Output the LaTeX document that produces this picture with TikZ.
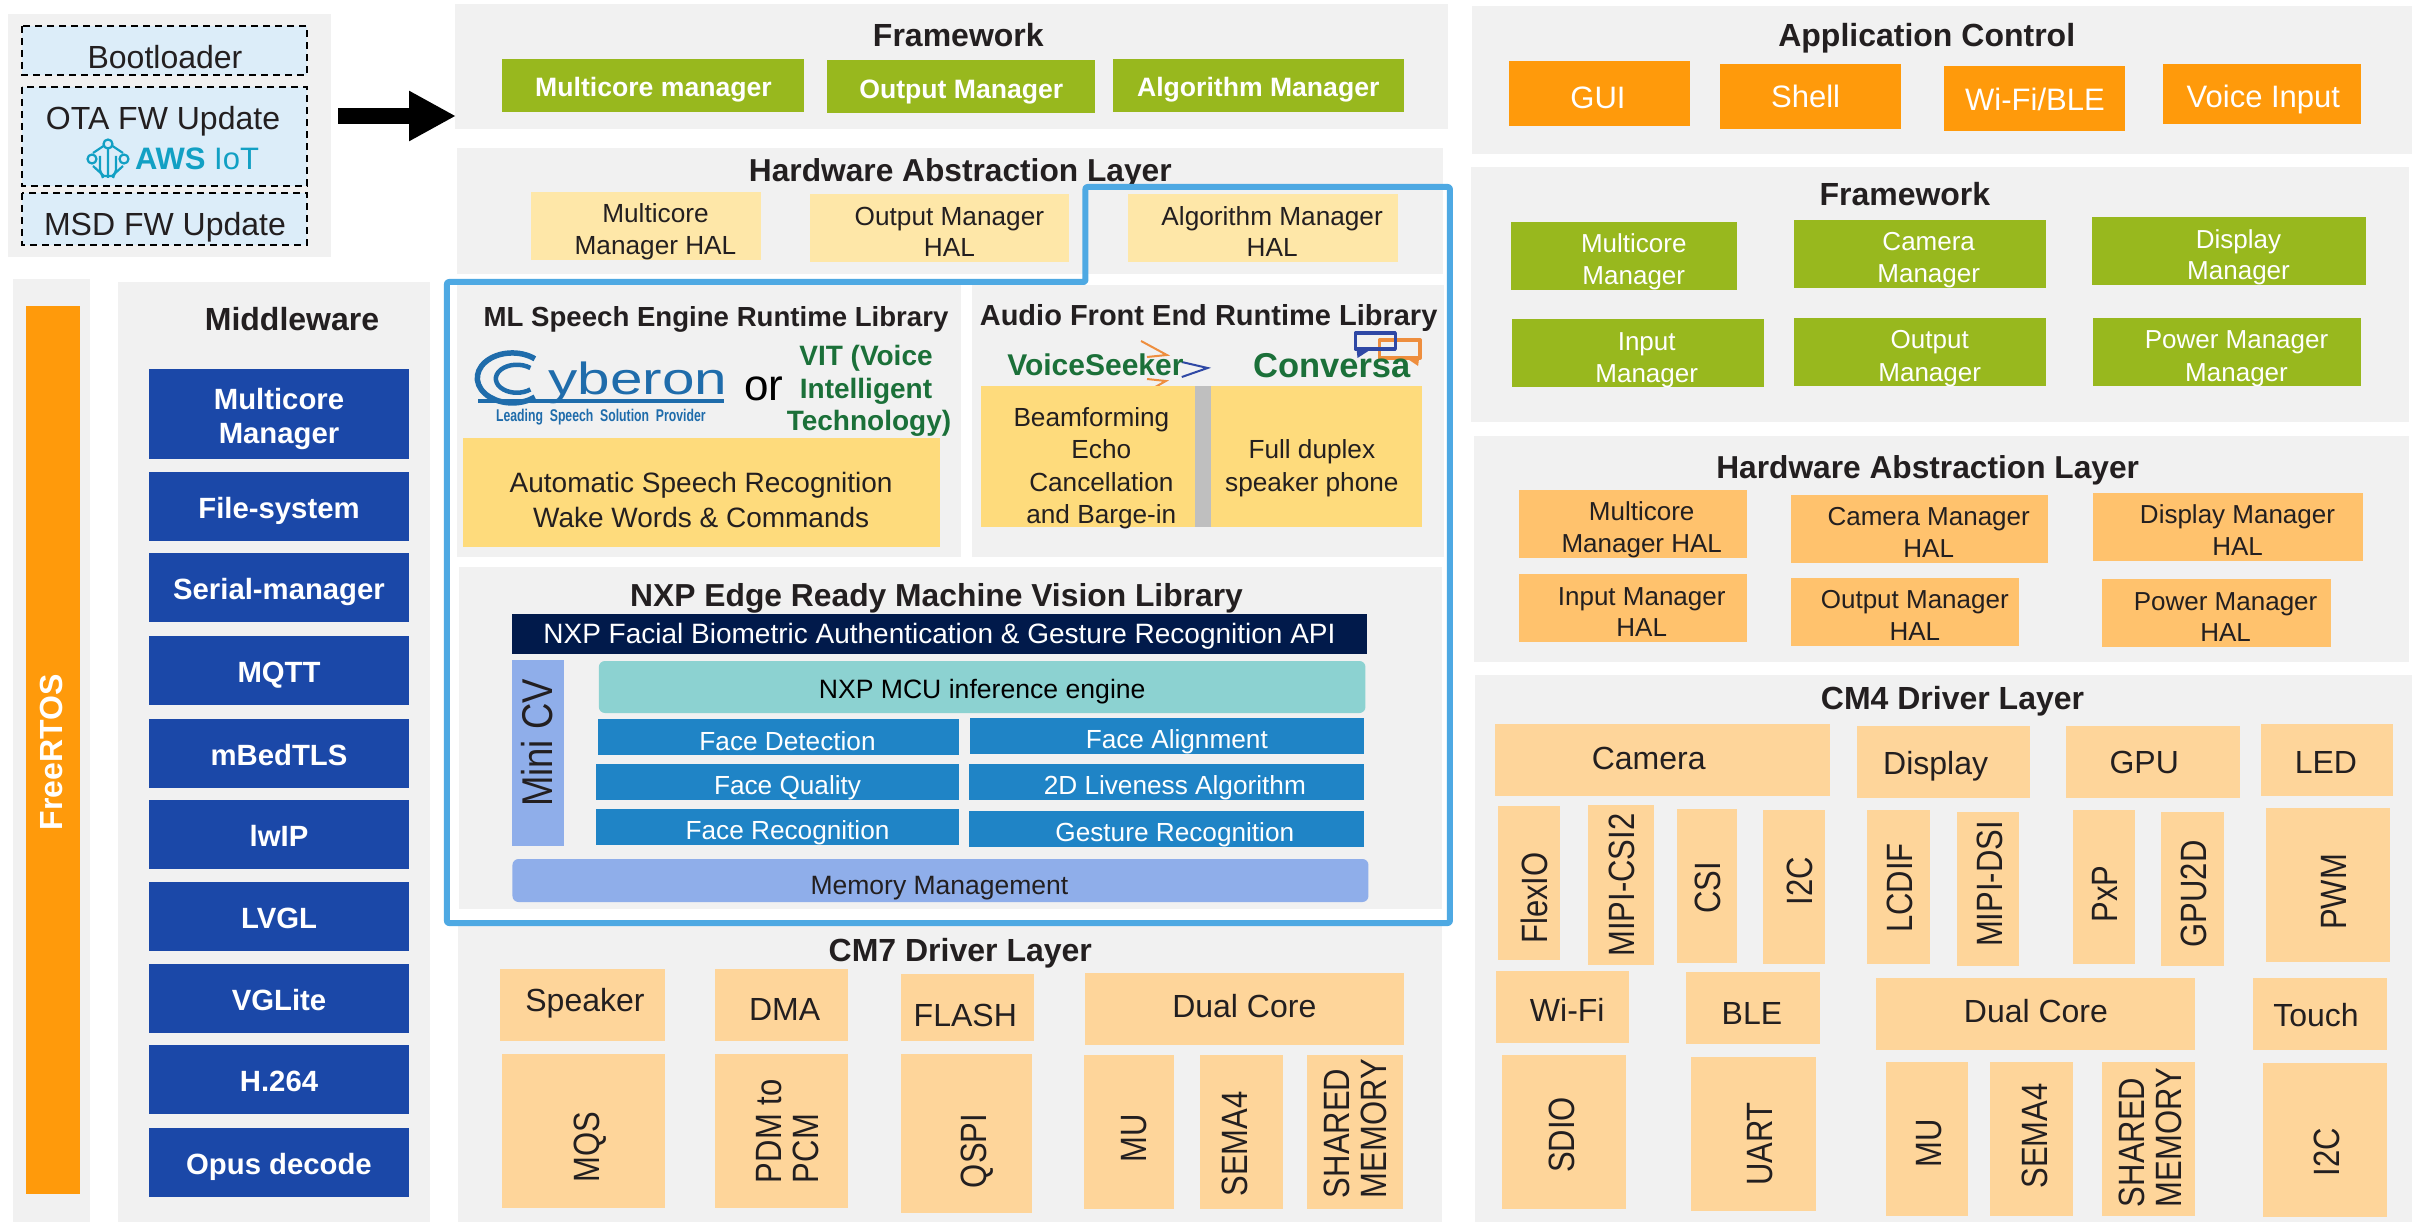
\documentclass[tikz,border=0pt]{standalone}
\usepackage{fontspec}
\usepackage{graphicx}
\usetikzlibrary{arrows.meta}
\setmainfont{Liberation Sans}
\definecolor{panelc}{HTML}{F1F1F1}
\definecolor{inkc}{HTML}{231F20}
\definecolor{orangec}{HTML}{FF9A0B}
\definecolor{greenc}{HTML}{98B81E}
\definecolor{halyc}{HTML}{FEE7A8}
\definecolor{halOc}{HTML}{FFC26D}
\definecolor{drvc}{HTML}{FED59A}
\definecolor{navyc}{HTML}{1B48A8}
\definecolor{skyc}{HTML}{4EA9E3}
\definecolor{libc}{HTML}{FEDB7C}
\definecolor{dashc}{HTML}{DCEDF9}
\definecolor{awsc}{HTML}{12A0C4}
\definecolor{deepc}{HTML}{011A4B}
\definecolor{periwc}{HTML}{8FAEEA}
\definecolor{tealc}{HTML}{8CD2D1}
\definecolor{facec}{HTML}{1F84C6}
\definecolor{cyberc}{HTML}{1F6CAB}
\definecolor{vitc}{HTML}{1B7039}
\definecolor{bubblebc}{HTML}{2F48A5}
\definecolor{bubbleoc}{HTML}{EE8E3E}
\tikzset{
  panel/.style={fill=panelc},
  appbox/.style={fill=orangec},
  fwbox/.style={fill=greenc},
  halbox/.style={fill=halyc},
  hal2box/.style={fill=halOc},
  drvbox/.style={fill=drvc},
  midbox/.style={fill=navyc},
  libbox/.style={fill=libc},
  facebox/.style={fill=facec},
  dashbox/.style={fill=dashc,draw=black,line width=1.6pt,dash pattern=on 7pt off 5pt},
  txt/.style={inner sep=0pt,outer sep=0pt,text=inkc},
  wht/.style={text=white},
  bld/.style={font=\bfseries},
  midzone/.style={x=0.993pt,xshift=3.08pt},
  rightzone/.style={x=0.993pt,xshift=10.22pt},
}
% T[opts]{x}{y}{size}{text}: x,y = visual centre of the capitals
\newcommand\T[5][]{\node[txt,anchor=base,#1] at ({#2},{#3+0.36*#4}) {\fontsize{#4}{#4}\selectfont #5};}
% rotated labels are stretched across their height, as in the reference
\newcommand\RT[5][]{\node[txt,anchor=base,rotate=90,#1] at ({#2+0.425*#4},{#3}) {\scalebox{1}[1.18]{\fontsize{#4}{#4}\selectfont #5}};}
\newcommand\RL[5][]{\node[txt,anchor=base west,rotate=90,#1] at ({#2+0.425*#4},{#3}) {\scalebox{1}[1.18]{\fontsize{#4}{#4}\selectfont #5}};}
\newcommand\B[5]{\fill[#1] (#2,#3) rectangle (#4,#5);}
\begin{document}
\begin{tikzpicture}[x=1pt,y=-1pt]
\useasboundingbox (0,0) rectangle (2419,1222);
% ---- left panels
\B{panel}{8}{14}{331}{257}
\B{panel}{13}{279}{90}{1222}
\B{panel}{118}{282}{430}{1222}
% ---- boot block
\draw[dashbox] (22,26) rectangle (307,75);
\draw[dashbox] (22,87) rectangle (307,186);
\draw[dashbox] (22,193) rectangle (307,245);
\T{165}{57}{32}{Bootloader}
\T{163}{118}{32}{OTA FW Update}
\T{165}{224}{32}{MSD FW Update}
\node[txt,anchor=base west,text=awsc] at (135,170) {\fontsize{31}{31}\selectfont\textbf{AWS} IoT};
\begin{scope}[draw=awsc,line width=2.2pt]
  \draw (108,143) -- (93,153) (108,143) -- (123,153) (93,166) -- (104,176) -- (112,176) -- (123,166);
  \draw (108,147) -- (108,178) (100,156) -- (100,170) -- (103,178) (116,156) -- (116,170) -- (113,178);
  \draw[fill=dashc] (108,144) circle[radius=4.5pt];
  \draw[fill=dashc] (92,159) circle[radius=4.5pt];
  \draw[fill=dashc] (124,159) circle[radius=4.5pt];
\end{scope}
% ---- FreeRTOS
\B{appbox}{26}{306}{80}{1194}
\node[txt,anchor=base,rotate=90,text=white,font=\bfseries] at (62.5,752.5) {\fontsize{32}{32}\selectfont FreeRTOS};
% ---- middleware
\T[bld]{292}{319}{32}{Middleware}
\B{midbox}{149}{369}{409}{459}
\T[wht,bld]{279}{399}{29.3}{Multicore}
\T[wht,bld]{279}{433}{29.3}{Manager}
\B{midbox}{149}{472}{409}{541}\T[wht,bld]{279}{508}{29.3}{File-system}
\B{midbox}{149}{553}{409}{622}\T[wht,bld]{279}{589}{29.3}{Serial-manager}
\B{midbox}{149}{636}{409}{705}\T[wht,bld]{279}{672}{29.3}{MQTT}
\B{midbox}{149}{719}{409}{788}\T[wht,bld]{279}{755}{29.3}{mBedTLS}
\B{midbox}{149}{800}{409}{869}\T[wht,bld]{279}{836}{29.3}{lwIP}
\B{midbox}{149}{882}{409}{951}\T[wht,bld]{279}{918}{29.3}{LVGL}
\B{midbox}{149}{964}{409}{1033}\T[wht,bld]{279}{1000}{29.3}{VGLite}
\B{midbox}{149}{1045}{409}{1114}\T[wht,bld]{279}{1081}{29.3}{H.264}
\B{midbox}{149}{1128}{409}{1197}\T[wht,bld]{279}{1164}{29.3}{Opus decode}
% ======== middle column
\begin{scope}[midzone]
\B{panel}{455}{4}{1455}{129}
\B{panel}{457}{148}{1450}{274}
\B{panel}{457}{285}{965}{557}
\B{panel}{976}{285}{1451}{557}
\B{panel}{459}{567}{1449}{909}
\B{panel}{458}{925}{1449}{1222}
\T[bld]{962}{35}{32}{Framework}
\B{fwbox}{502}{59}{807}{112}\T[wht,bld]{655}{87}{26.6}{Multicore manager}
\B{fwbox}{830}{60}{1100}{113}\T[wht,bld]{965}{89}{26.6}{Output Manager}
\B{fwbox}{1118}{59}{1411}{112}\T[wht,bld]{1264}{87}{26.6}{Algorithm Manager}
\T[bld]{964}{170}{31.7}{Hardware Abstraction Layer}
\B{halbox}{532}{192}{763}{260}\T{657}{213}{26.2}{Multicore}\T{657}{245}{26.2}{Manager HAL}
\B{halbox}{813}{194}{1073}{262}\T{953}{216}{26.2}{Output Manager}\T{953}{247}{26.2}{HAL}
\B{halbox}{1133}{194}{1405}{262}\T{1278}{216}{26.2}{Algorithm Manager}\T{1278}{247}{26.2}{HAL}
% ML speech
\T[bld]{718}{317}{27.6}{ML Speech Engine Runtime Library}
\draw[cyberc,line width=5.5pt] (535.5,358.8) arc[start angle=50,end angle=310,x radius=35pt,y radius=25pt];
\draw[cyberc,line width=4.5pt] (531,368) arc[start angle=50,end angle=310,x radius=21pt,y radius=14pt];
\node[txt,anchor=base west,text=cyberc] at (549,394) {\scalebox{1.3}[1]{\fontsize{45}{45}\selectfont yberon}};
\fill[cyberc] (478,399) rectangle (726,403);
\node[txt,text=cyberc,anchor=base] at (602,421) {\scalebox{0.72}[1]{\fontsize{17}{17}\selectfont\bfseries Leading\ \ Speech\ \ Solution\ \ Provider}};
\T[text=black]{766}{385}{44}{or}
\T[bld,text=vitc]{869}{355}{28}{VIT (Voice}
\T[bld,text=vitc]{869}{388}{28}{Intelligent}
\T[bld,text=vitc]{872}{420}{28}{Technology)}
\B{libbox}{463}{438}{944}{547}
\T{703}{482}{28}{Automatic Speech Recognition}
\T{703}{517}{28}{Wake Words \& Commands}
% Audio
\T[bld]{1214}{315}{29}{Audio Front End Runtime Library}
\begin{scope}[line width=2pt]
  \draw[bubbleoc] (1146,341) -- (1172,355) -- (1152,357);
  \draw[bubbleoc] (1146,395) -- (1171,381) -- (1152,379);
  \draw[bubblebc] (1187,362) -- (1213,368) -- (1187,377);
\end{scope}
\T[bld,text=vitc]{1100}{365}{30}{VoiceSeeker}
\begin{scope}[line width=3.5pt,line join=round]
  \draw[bubbleoc] (1386,340) rectangle (1427,358);
  \fill[bubbleoc] (1413,358) -- (1426,358) -- (1425,366) -- cycle;
  \draw[bubblebc] (1362,333) rectangle (1402,349);
  \fill[bubblebc] (1363,349) -- (1378,349) -- (1364,358) -- cycle;
\end{scope}
\T[bld,text=vitc]{1338}{365}{34.5}{Conversa}
\B{libbox}{985}{386}{1200}{527}
\fill[gray!50] (1200,386) rectangle (1216,527);
\B{libbox}{1216}{386}{1429}{527}
\T{1096}{417}{26.2}{Beamforming}
\T{1106}{449}{26.2}{Echo}
\T{1106}{482}{26.2}{Cancellation}
\T{1106}{514}{26.2}{and Barge-in}
\T{1318}{449}{26.2}{Full duplex}
\T{1318}{482}{26.2}{speaker phone}
% Vision
\T[bld]{940}{595}{31.8}{NXP Edge Ready Machine Vision Library}
\fill[deepc] (513,614) rectangle (1374,654);
\T[wht]{943}{633}{28}{NXP Facial Biometric Authentication \& Gesture Recognition API}
\fill[periwc] (513,660) rectangle (565,846);
\RT{538}{743}{36.5}{Mini CV}
\fill[tealc,rounded corners=6pt] (600,661) rectangle (1372,713);
\T[text=black]{986}{689}{26.6}{NXP MCU inference engine}
\B{facebox}{599}{719}{963}{755}\T[wht]{790}{741}{26.2}{Face Detection}
\B{facebox}{974}{718}{1370}{754}\T[wht]{1182}{739}{26.2}{Face Alignment}
\B{facebox}{597}{764}{963}{800}\T[wht]{790}{785}{26.2}{Face Quality}
\B{facebox}{973}{764}{1370}{800}\T[wht]{1180}{785}{26.2}{2D Liveness Algorithm}
\B{facebox}{597}{809}{963}{845}\T[wht]{790}{830}{26.2}{Face Recognition}
\B{facebox}{973}{811}{1370}{847}\T[wht]{1180}{832}{26.2}{Gesture Recognition}
\fill[periwc,rounded corners=6pt] (513,859) rectangle (1375,902);
\T{943}{885}{26.5}{Memory Management}
% blue outline
\draw[skyc,line width=6pt,line join=round,rounded corners=2pt]
  (447,282) -- (1090,282) -- (1090,187) -- (1457,187) -- (1457,923) -- (447,923) -- cycle;
% CM7
\T[bld]{964}{950}{32}{CM7 Driver Layer}
\B{drvbox}{500}{969}{667}{1041}\T{586}{1000}{32}{Speaker}
\B{drvbox}{717}{969}{851}{1041}\T{787}{1009}{32}{DMA}
\B{drvbox}{904}{974}{1038}{1041}\T{969}{1015}{32}{FLASH}
\B{drvbox}{1090}{973}{1411}{1045}\T{1250}{1006}{32}{Dual Core}
\B{drvbox}{502}{1054}{667}{1208}\RT{587}{1147}{31}{MQS}
\B{drvbox}{717}{1054}{851}{1208}\RL{771}{1183}{31}{PDM to}\RL{808}{1183}{31}{PCM}
\B{drvbox}{904}{1054}{1036}{1213}\RT{977}{1151}{31}{QSPI}
\B{drvbox}{1089}{1055}{1179}{1209}\RT{1138}{1138}{31}{MU}
\B{drvbox}{1205}{1055}{1289}{1209}\RT{1240}{1144}{31}{SEMA4}
\B{drvbox}{1313}{1055}{1410}{1209}\RL{1343}{1198}{31}{SHARED}\RL{1380}{1198}{31}{MEMORY}
\end{scope}
% ---- arrow
\coordinate (arrowS) at (338,116);
\coordinate (arrowE) at (456,116);
\draw[line width=16pt,-{Triangle[length=47pt,width=47pt]}] (arrowS) -- (arrowE);
% ======== right column
\begin{scope}[rightzone]
\B{panel}{1472}{6}{2419}{154}
\B{panel}{1471}{167}{2416}{422}
\B{panel}{1474}{436}{2416}{662}
\B{panel}{1475}{675}{2419}{1222}
\T[bld]{1930}{35}{32}{Application Control}
\B{appbox}{1509}{61}{1692}{126}\T[wht]{1599}{97}{31}{GUI}
\B{appbox}{1722}{64}{1904}{129}\T[wht]{1808}{96}{31}{Shell}
\B{appbox}{1947}{66}{2130}{131}\T[wht]{2039}{99}{31}{Wi-Fi/BLE}
\B{appbox}{2168}{64}{2367}{124}\T[wht]{2269}{96}{31}{Voice Input}
\T[bld]{1908}{194}{32}{Framework}
\B{fwbox}{1511}{222}{1739}{290}\T[wht]{1635}{243}{26}{Multicore}\T[wht]{1635}{275}{26}{Manager}
\B{fwbox}{1796}{220}{2050}{288}\T[wht]{1932}{241}{26}{Camera}\T[wht]{1932}{273}{26}{Manager}
\B{fwbox}{2096}{217}{2372}{285}\T[wht]{2244}{239}{26}{Display}\T[wht]{2244}{270}{26}{Manager}
\B{fwbox}{1512}{319}{1766}{387}\T[wht]{1648}{341}{26}{Input}\T[wht]{1648}{373}{26}{Manager}
\B{fwbox}{1796}{318}{2050}{386}\T[wht]{1933}{339}{26}{Output}\T[wht]{1933}{372}{26}{Manager}
\B{fwbox}{2097}{318}{2367}{386}\T[wht]{2242}{339}{26}{Power Manager}\T[wht]{2242}{372}{26}{Manager}
\T[bld]{1931}{467}{31.7}{Hardware Abstraction Layer}
\B{hal2box}{1519}{490}{1749}{558}\T{1643}{511}{26}{Multicore}\T{1643}{543}{26}{Manager HAL}
\B{hal2box}{1793}{495}{2052}{563}\T{1932}{516}{26}{Camera Manager}\T{1932}{548}{26}{HAL}
\B{hal2box}{2097}{493}{2369}{561}\T{2243}{514}{26}{Display Manager}\T{2243}{546}{26}{HAL}
\B{hal2box}{1519}{574}{1749}{642}\T{1643}{596}{26}{Input Manager}\T{1643}{627}{26}{HAL}
\B{hal2box}{1793}{578}{2023}{646}\T{1918}{599}{26}{Output Manager}\T{1918}{631}{26}{HAL}
\B{hal2box}{2107}{579}{2337}{647}\T{2231}{601}{26}{Power Manager}\T{2231}{632}{26}{HAL}
\T[bld]{1956}{698}{32}{CM4 Driver Layer}
\B{drvbox}{1495}{724}{1833}{796}\T{1650}{758}{32}{Camera}
\B{drvbox}{1860}{726}{2034}{798}\T{1939}{763}{32}{Display}
\B{drvbox}{2070}{726}{2245}{798}\T{2149}{762}{32}{GPU}
\B{drvbox}{2267}{724}{2400}{796}\T{2332}{762}{32}{LED}
\B{drvbox}{1498}{806}{1561}{960}\RT{1535}{898}{31}{FlexIO}
\B{drvbox}{1589}{805}{1655}{965}\RT{1623}{885}{31}{MIPI-CSI2}
\B{drvbox}{1679}{809}{1739}{963}\RT{1709}{888}{31}{CSI}
\B{drvbox}{1765}{810}{1828}{964}\RT{1802}{881}{31}{I2C}
\B{drvbox}{1870}{810}{1933}{964}\RT{1902}{888}{31}{LCDIF}
\B{drvbox}{1960}{812}{2023}{966}\RT{1993}{884}{31}{MIPI-DSI}
\B{drvbox}{2077}{810}{2140}{964}\RT{2109}{894}{31}{PxP}
\B{drvbox}{2166}{812}{2229}{966}\RT{2199}{894}{31}{GPU2D}
\B{drvbox}{2272}{808}{2397}{962}\RT{2340}{892}{31}{PWM}
\B{drvbox}{1496}{971}{1630}{1043}\T{1568}{1010}{32}{Wi-Fi}
\B{drvbox}{1688}{972}{1823}{1044}\T{1754}{1013}{32}{BLE}
\B{drvbox}{1879}{978}{2200}{1050}\T{2040}{1011}{32}{Dual Core}
\B{drvbox}{2259}{978}{2394}{1050}\T{2322}{1015}{32}{Touch}
\B{drvbox}{1502}{1055}{1627}{1209}\RT{1562}{1135}{31}{SDIO}
\B{drvbox}{1693}{1057}{1818}{1211}\RT{1762}{1144}{31}{UART}
\B{drvbox}{1889}{1062}{1972}{1216}\RT{1932}{1143}{31}{MU}
\B{drvbox}{1994}{1062}{2077}{1216}\RT{2038}{1136}{31}{SEMA4}
\B{drvbox}{2107}{1062}{2200}{1216}\RL{2136}{1207}{31}{SHARED}\RL{2173}{1207}{31}{MEMORY}
\B{drvbox}{2269}{1063}{2394}{1217}\RT{2333}{1152}{31}{I2C}
\end{scope}
\end{tikzpicture}
\end{document}
